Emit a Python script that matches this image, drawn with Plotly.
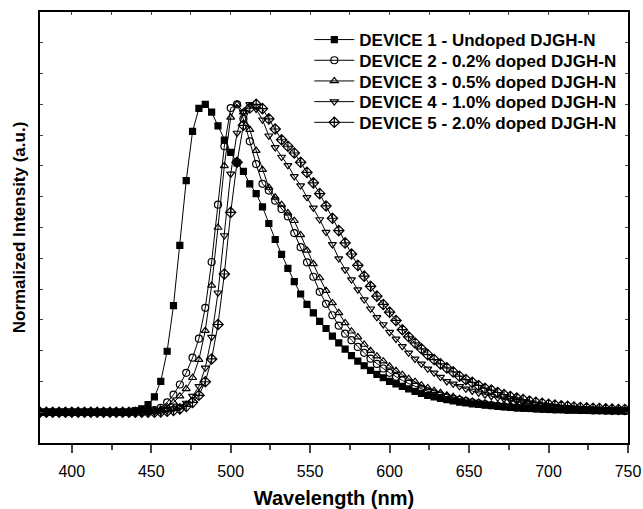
import plotly.graph_objects as go

wavelength = list(range(380, 752, 4))  # 380..748 nm, 4 nm step

base15 = [0.0] * 15  # 380..436

device1 = base15 + [0.005, 0.011, 0.025, 0.05, 0.10, 0.198, 0.346, 0.542, 0.752, 0.912,
    0.987, 1.0, 0.975, 0.930, 0.884, 0.844, 0.81, 0.782, 0.742, 0.71,
    0.667, 0.613, 0.561, 0.513, 0.467, 0.424, 0.384, 0.350, 0.323, 0.295,
    0.272, 0.247, 0.225, 0.205, 0.184, 0.166, 0.151, 0.136, 0.123, 0.112,
    0.10, 0.092, 0.084, 0.076, 0.068, 0.061, 0.055, 0.050, 0.045, 0.041,
    0.037, 0.033, 0.030, 0.027, 0.025, 0.023, 0.021, 0.019, 0.017, 0.016,
    0.014, 0.013, 0.012, 0.011, 0.010, 0.009, 0.008, 0.008, 0.007, 0.007,
    0.006, 0.006, 0.005, 0.005, 0.005, 0.004, 0.004, 0.004]

device2 = base15 + [0.0, 0.0, 0.003, 0.007, 0.014, 0.032, 0.057, 0.09, 0.128, 0.177,
    0.239, 0.339, 0.488, 0.674, 0.864, 0.988, 1.0, 0.953, 0.88, 0.806,
    0.742, 0.72, 0.687, 0.66, 0.636, 0.582, 0.536, 0.487, 0.44, 0.391,
    0.352, 0.315, 0.281, 0.255, 0.234, 0.212, 0.193, 0.174, 0.157, 0.142,
    0.128, 0.115, 0.103, 0.093, 0.084, 0.076, 0.068, 0.061, 0.055, 0.049,
    0.044, 0.040, 0.036, 0.032, 0.029, 0.026, 0.023, 0.021, 0.019, 0.017,
    0.015, 0.014, 0.013, 0.012, 0.011, 0.010, 0.009, 0.009, 0.008, 0.008,
    0.007, 0.007, 0.006, 0.006, 0.005, 0.005, 0.005, 0.004]

device3 = base15 + [0.0, 0.0, 0.002, 0.005, 0.010, 0.018, 0.032, 0.052, 0.076, 0.112,
    0.171, 0.265, 0.412, 0.60, 0.80, 0.958, 1.0, 0.975, 0.918, 0.85,
    0.788, 0.73, 0.698, 0.674, 0.647, 0.622, 0.576, 0.526, 0.482, 0.436,
    0.395, 0.355, 0.323, 0.29, 0.263, 0.244, 0.22, 0.20, 0.182, 0.166,
    0.149, 0.135, 0.122, 0.109, 0.099, 0.088, 0.079, 0.07, 0.063, 0.055,
    0.05, 0.044, 0.039, 0.035, 0.032, 0.029, 0.025, 0.023, 0.021, 0.019,
    0.017, 0.015, 0.014, 0.013, 0.012, 0.011, 0.010, 0.009, 0.009, 0.008,
    0.007, 0.007, 0.006, 0.006, 0.005, 0.005, 0.005, 0.004]

device4 = base15 + [0.0, 0.0, 0.0, 0.001, 0.003, 0.006, 0.011, 0.018, 0.03, 0.052,
    0.084, 0.144, 0.244, 0.388, 0.574, 0.774, 0.907, 0.975, 1.0, 0.985,
    0.95, 0.898, 0.86, 0.829, 0.802, 0.766, 0.736, 0.698, 0.664, 0.626,
    0.585, 0.545, 0.499, 0.463, 0.431, 0.398, 0.366, 0.336, 0.308, 0.285,
    0.26, 0.238, 0.214, 0.193, 0.173, 0.157, 0.141, 0.128, 0.114, 0.10,
    0.092, 0.084, 0.076, 0.069, 0.063, 0.057, 0.052, 0.047, 0.043, 0.039,
    0.035, 0.031, 0.028, 0.025, 0.023, 0.021, 0.019, 0.017, 0.016, 0.014,
    0.013, 0.012, 0.011, 0.010, 0.009, 0.009, 0.008, 0.008]

device5 = base15 + [0.0, 0.0, 0.0, 0.0, 0.001, 0.003, 0.006, 0.011, 0.019, 0.032,
    0.055, 0.099, 0.173, 0.285, 0.449, 0.649, 0.812, 0.932, 0.988, 1.0,
    0.986, 0.953, 0.92, 0.885, 0.864, 0.842, 0.812, 0.779, 0.745, 0.71,
    0.67, 0.63, 0.59, 0.55, 0.514, 0.477, 0.442, 0.409, 0.377, 0.35,
    0.325, 0.298, 0.268, 0.245, 0.225, 0.206, 0.187, 0.171, 0.157, 0.144,
    0.131, 0.117, 0.106, 0.097, 0.087, 0.078, 0.072, 0.064, 0.057, 0.051,
    0.046, 0.041, 0.036, 0.032, 0.029, 0.026, 0.023, 0.021, 0.019, 0.017,
    0.015, 0.014, 0.013, 0.012, 0.011, 0.010, 0.009, 0.009]

series_names = [
    "DEVICE 1 - Undoped DJGH-N",
    "DEVICE 2 - 0.2% doped DJGH-N",
    "DEVICE 3 - 0.5% doped DJGH-N",
    "DEVICE 4 - 1.0% doped DJGH-N",
    "DEVICE 5 - 2.0% doped DJGH-N",
]
series_values = [device1, device2, device3, device4, device5]
symbols = ["square", "circle-open", "triangle-up-open", "triangle-down-open", "diamond-cross-open"]
sizes = [6, 7, 7, 7, 8]

FONT = "Liberation Sans, Arial, sans-serif"
legend_ids = ["legend", "legend2", "legend3", "legend4", "legend5"]
legend_rows_y = [0.935, 0.887, 0.839, 0.791, 0.743]

fig = go.Figure()
for name, vals, sym, sz, lid in zip(series_names, series_values, symbols, sizes, legend_ids):
    fig.add_trace(go.Scatter(
        x=wavelength, y=vals, name=name, mode="lines+markers",
        line=dict(color="black", width=1),
        marker=dict(symbol=sym, size=sz, color="black",
                    line=dict(color="black", width=1.2)),
        legend=lid,
    ))

fig.add_trace(go.Scatter(x=[None], y=[None], xaxis="x2", yaxis="y2", showlegend=False))

legend_layout = {}
for lid, ly in zip(legend_ids, legend_rows_y):
    legend_layout[lid] = dict(
        x=0.458, y=ly, xanchor="left", yanchor="middle",
        font=dict(family=FONT, size=17, color="black", weight="bold"),
        bgcolor="rgba(0,0,0,0)", itemwidth=40)

fig.update_layout(
    width=643, height=509,
    margin=dict(l=40, r=15, t=12, b=66, autoexpand=False),
    paper_bgcolor="white", plot_bgcolor="white",
    font=dict(family=FONT, color="black"),
    showlegend=True,
    xaxis=dict(range=[380, 750], dtick=50, tick0=400, ticks="outside", ticklen=8,
               tickwidth=1.5, showline=True, linewidth=2, linecolor="black",
               showgrid=False, zeroline=False, ticklabelstandoff=5,
               tickfont=dict(size=16, family=FONT),
               minor=dict(dtick=25, tick0=400, ticks="outside", ticklen=5, tickwidth=1.5),
               title=dict(text="<b>Wavelength (nm)</b>", font=dict(size=20, family=FONT),
                          standoff=12)),
    yaxis=dict(range=[-0.1, 1.3], dtick=0.1, tick0=0, ticks="inside", ticklen=3,
               showticklabels=False, showline=True, linewidth=2, linecolor="black",
               showgrid=False, zeroline=False,
               title=dict(text="<b>Normalized Intensity (a.u.)</b>",
                          font=dict(size=17, family=FONT), standoff=8)),
    xaxis2=dict(range=[380, 750], overlaying="x", side="top", dtick=25, tick0=400,
                ticks="inside", ticklen=3, showticklabels=False, showline=True,
                linewidth=2, linecolor="black", showgrid=False, zeroline=False),
    yaxis2=dict(range=[-0.1, 1.3], overlaying="y", side="right", dtick=0.1, tick0=0,
                ticks="inside", ticklen=3, showticklabels=False, showline=True,
                linewidth=2, linecolor="black", showgrid=False, zeroline=False),
    **legend_layout,
)

fig.write_html("out.html", config={"displayModeBar": False},
               post_script="document.body.style.margin='0';")
